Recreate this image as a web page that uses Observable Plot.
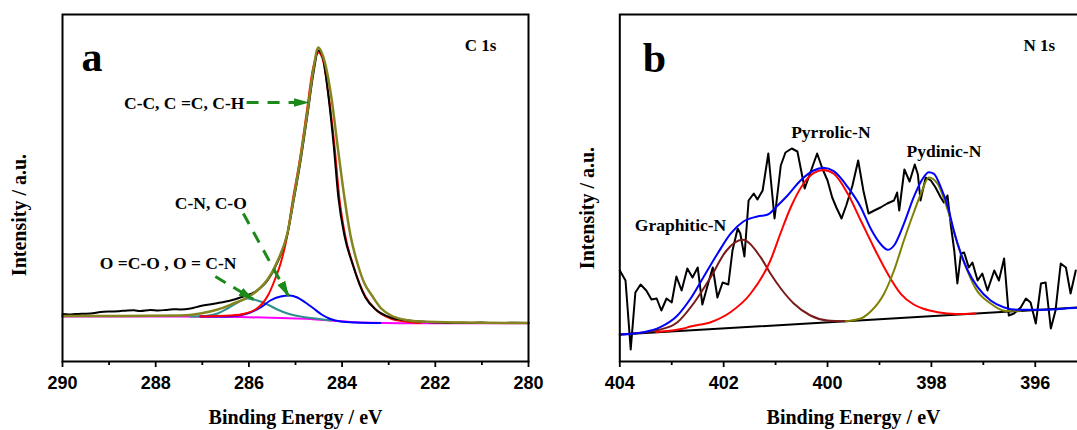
<!DOCTYPE html>
<html><head><meta charset="utf-8">
<script src="https://cdn.jsdelivr.net/npm/d3@7"></script>
<script src="https://cdn.jsdelivr.net/npm/@observablehq/plot@0.6"></script>
<style>
html,body{margin:0;padding:0;background:#fff;}
body{width:1077px;height:430px;overflow:hidden;position:relative;}
#pa{position:absolute;left:0;top:0;width:545px;height:430px;}
#pb{position:absolute;left:545px;top:0;width:552px;height:430px;}
svg{max-width:none !important;}
</style></head><body>
<div id="pa"></div><div id="pb"></div>
<script>
// ---------- Panel a: C 1s (binding energy eV, intensity a.u.) ----------
const c1sExp = [[290.00,47.5],[289.86,47],[289.72,47.5],[289.56,47.8],[289.40,48],[289.18,49.5],[288.97,50],[288.79,50.3],[288.61,51],[288.47,51.2],[288.33,50.5],[288.11,51.5],[287.95,51],[287.79,51.5],[287.63,52.3],[287.47,52],[287.25,53],[287.04,55.5],[286.72,58],[286.39,61],[286.12,65],[285.86,70],[285.60,81],[285.39,99],[285.17,128],[285.04,161],[284.89,201],[284.74,248],[284.61,290],[284.51,311],[284.42,305],[284.29,264],[284.18,216],[284.08,164],[283.95,126],[283.78,98],[283.50,64],[283.28,52],[282.96,44],[282.68,41.5],[282.32,40],[282.10,39.3],[281.89,39],[281.68,38.6],[281.46,38.8],[281.25,38.5],[281.03,39],[280.82,38.4],[280.60,38.5],[280.30,38.7],[280.00,38.5]];
const c1sEnvelope = [[290.00,45.5],[288.76,45.5],[287.47,46],[287.04,48],[286.67,52],[286.33,58],[286.03,64],[285.75,74],[285.60,82],[285.39,100],[285.17,129],[285.04,163],[284.89,204],[284.74,251],[284.61,294],[284.51,314],[284.40,304],[284.23,264],[284.09,213],[283.95,164],[283.82,126],[283.67,98],[283.52,78],[283.36,66],[283.16,53],[282.95,46],[282.68,42],[282.32,40],[281.46,39],[280.00,38.5]];
const c1sCC = [[287.04,45],[286.39,46],[286.07,48],[285.86,52],[285.71,58],[285.58,67],[285.45,81],[285.32,98],[285.19,123],[285.06,161],[284.91,201],[284.76,249],[284.64,289],[284.51,309],[284.42,303],[284.29,266],[284.16,214],[284.06,164],[283.93,125],[283.76,96],[283.50,65],[283.28,52],[282.96,43],[282.64,40],[282.32,38.5]];
const c1sCN = [[287.04,45],[286.50,45],[286.24,46],[285.97,49],[285.75,54],[285.54,61],[285.32,65],[285.13,66],[284.96,64],[284.79,59],[284.61,53],[284.44,47],[284.25,42.5],[284.03,40],[283.71,39],[283.18,38.5]];
const c1sOCO = [[287.25,45],[286.93,45.5],[286.67,48],[286.46,53],[286.24,59],[286.03,63],[285.82,61],[285.60,57],[285.39,52],[285.17,48],[284.89,45],[284.57,43],[284.25,41]];
const c1sBackground = [[290.00,45],[287.47,45],[286.18,44.5],[285.32,43.5],[284.68,42.5],[284.25,41],[283.82,39.5],[283.39,38.7],[282.75,38.3],[280.00,38.3]];
const ticksA = [290,288,286,284,282,280];
const minorA = [289,287,285,283,281];
const labelsA = [
  {e: 288.68, i: 252.7, text: "C-C, C =C, C-H"},
  {e: 287.59, i: 152.5, text: "C-N, C-O"},
  {e: 289.20, i: 92.7, text: "O =C-O , O = C-N"}
];
const arrowsA = [
  {e1: 286.05, i1: 259, e2: 284.72, i2: 259},
  {e1: 286.12, i1: 148, e2: 285.15, i2: 65.5},
  {e1: 286.72, i1: 85, e2: 285.90, i2: 62}
];

// ---------- Panel b: N 1s ----------
const n1sExp = [[404.00,91],[403.89,81],[403.79,12],[403.70,69],[403.60,77],[403.49,71],[403.39,62],[403.29,63],[403.20,51],[403.10,63],[403.00,59],[402.91,85],[402.81,71],[402.70,93],[402.60,84],[402.50,94],[402.41,57],[402.31,76],[402.21,94],[402.12,64],[402.02,79],[401.91,77],[401.83,111],[401.73,133],[401.68,128],[401.60,105],[401.52,161],[401.42,168],[401.35,162],[401.25,171],[401.14,208],[401.02,143],[400.90,196],[400.81,209],[400.69,213],[400.58,210],[400.44,173],[400.20,208],[400.10,193],[400.00,181],[399.91,164],[399.83,154],[399.73,143],[399.64,156],[399.52,176],[399.41,201],[399.31,171],[399.21,148],[399.10,151],[398.98,154],[398.85,158],[398.72,161],[398.66,169],[398.62,151],[398.52,192],[398.42,180],[398.32,197],[398.26,187],[398.21,161],[398.11,184],[398.01,181],[397.92,174],[397.82,164],[397.76,159],[397.69,166],[397.63,138],[397.56,111],[397.50,78],[397.43,108],[397.37,109],[397.28,94],[397.21,99],[397.11,81],[397.02,88],[396.92,71],[396.79,91],[396.70,81],[396.60,103],[396.51,46],[396.41,48],[396.28,54],[396.18,63],[396.09,59],[395.99,38],[395.89,78],[395.80,79],[395.70,33],[395.61,51],[395.51,98],[395.41,94],[395.32,68],[395.22,91]];
const n1sEnvelope = [[404.00,27],[403.54,29.3],[403.22,34.3],[402.89,46],[402.64,62.7],[402.39,84.3],[402.12,107.7],[401.87,127.7],[401.62,140],[401.35,145],[401.15,147],[400.98,155],[400.77,166],[400.52,181],[400.27,191],[400.08,193.7],[399.88,190.3],[399.61,174.3],[399.36,154.3],[399.17,133],[398.97,117],[398.84,111.7],[398.72,116],[398.53,137.7],[398.34,164.3],[398.20,180],[398.05,189.3],[397.95,187.7],[397.82,174.3],[397.68,154.3],[397.57,131],[397.43,107.7],[397.30,91],[397.11,74.3],[396.86,61],[396.61,54.3],[396.34,51.7],[395.84,51.7],[395.18,53.7],[395.00,54]];
const n1sPyrrolic = [[403.30,29.5],[402.77,33],[402.64,35],[402.25,39.3],[401.87,49.3],[401.48,68],[401.10,101],[400.90,129],[400.71,154],[400.46,178],[400.27,188.3],[400.08,191.5],[399.88,187.7],[399.61,167.7],[399.36,141],[399.11,114.3],[398.84,87.7],[398.59,67.7],[398.34,57],[398.15,52.7],[397.88,49.3],[397.53,47.5],[397.15,48]];
const n1sPyridinic = [[399.65,40.3],[399.36,43],[399.17,50],[398.92,67],[398.72,91],[398.53,121],[398.34,149],[398.20,168],[398.05,184],[397.88,177.7],[397.77,164.3],[397.63,142],[397.50,118],[397.34,95],[397.15,73],[396.86,58],[396.57,50.5],[396.28,50.7]];
const n1sGraphitic = [[404.00,27],[403.22,32],[402.89,39.3],[402.58,58],[402.25,84.3],[401.96,110],[401.64,121.7],[401.29,104.3],[401.10,88],[400.90,73],[400.65,58],[400.33,46],[400.00,41],[399.65,40.3]];
const n1sBackground = [[404.00,27],[395.00,54.5]];
const ticksB = [404,402,400,398,396];
const minorB = [403,401,399,397,395];
const labelsB = [
  {e: 403.71, i: 130.5, text: "Graphitic-N"},
  {e: 400.70, i: 223.7, text: "Pyrrolic-N"},
  {e: 398.48, i: 204.3, text: "Pydinic-N"}
];

// ---------- drawing ----------
const SERIF = "'Liberation Serif', 'Times New Roman', serif";
const SANS = "'Liberation Sans', Arial, sans-serif";
const GREEN = "#1b8a1b";
const pts = a => a.map(([e, i]) => ({e, i}));

function curve(data, stroke, w = 2, c = "monotone-x") {
  return Plot.line(pts(data), {x: "e", y: "i", stroke, strokeWidth: w, curve: c});
}

function panel(o) {
  const marks = [
    ...o.curves,
    Plot.frame({stroke: "#000", strokeWidth: 2}),
    Plot.axisX(o.major, {tickSize: 6, tickPadding: 9, strokeWidth: 1.8, fontSize: 18, fontWeight: "bold", fontFamily: SANS, label: null, tickFormat: d => String(d)}),
    Plot.axisX(o.minor, {tickSize: 4, strokeWidth: 1.8, label: null, tickFormat: () => ""}),
    Plot.text([o.letter], {text: d => d, frameAnchor: "top-left", textAnchor: "start", lineAnchor: "bottom", dx: o.letterDx, dy: o.letterDy, fontSize: 42, fontWeight: "bold", fontFamily: SERIF}),
    Plot.text([o.core], {text: d => d, frameAnchor: "top-right", textAnchor: "end", lineAnchor: "bottom", dx: -32, dy: 36, fontSize: 17, fontWeight: "bold", fontFamily: SERIF}),
    Plot.text(["Binding Energy / eV"], {text: d => d, frameAnchor: "bottom", textAnchor: "middle", lineAnchor: "bottom", dy: 62, fontSize: 20, fontWeight: "bold", fontFamily: SERIF}),
    Plot.text(["Intensity / a.u."], {text: d => d, frameAnchor: "left", rotate: -90, textAnchor: "middle", lineAnchor: "middle", dx: o.ylabDx, dy: o.ylabDy, fontSize: 20, fontWeight: "bold", fontFamily: SERIF}),
    Plot.text(o.labels, {x: "e", y: "i", text: "text", textAnchor: "start", lineAnchor: "bottom", fontSize: 17.5, fontWeight: "bold", fontFamily: SERIF})
  ];
  if (o.arrows) marks.push(Plot.link(o.arrows, {x1: "e1", y1: "i1", x2: "e2", y2: "i2", stroke: GREEN, strokeWidth: 3, strokeDasharray: "12,9"}));
  const svg = Plot.plot({
    width: o.width, height: 430,
    marginLeft: o.ml, marginRight: o.mr, marginTop: 14, marginBottom: 69,
    style: {background: "#fff", color: "#000", fontWeight: "bold", overflow: "visible", maxWidth: "none"},
    x: {domain: o.domain},
    y: {domain: [0, 347], axis: null},
    marks
  });
  svg.style.maxWidth = "none";
  svg.style.width = o.width + "px";
  svg.style.height = "430px";
  if (o.arrows) {
    const s = d3.select(svg);
    const defs = s.insert("defs", ":first-child");
    defs.append("marker").attr("id", "head-" + o.letter)
      .attr("viewBox", "0 0 16 10").attr("refX", 15).attr("refY", 5)
      .attr("markerWidth", 16).attr("markerHeight", 10)
      .attr("markerUnits", "userSpaceOnUse").attr("orient", "auto")
      .append("path").attr("d", "M0,0.5L16,5L0,9.5Z").attr("fill", GREEN).attr("stroke", "none");
    s.selectAll('g[aria-label="link"] path').attr("marker-end", `url(#head-${o.letter})`);
  }
  return svg;
}

const svgA = panel({
  width: 545, ml: 62, mr: 17, domain: [290, 280],
  major: ticksA, minor: minorA, letter: "a", letterDx: 19, letterDy: 56, core: "C 1s",
  ylabDx: -43, ylabDy: 27, labels: labelsA, arrows: arrowsA,
  curves: [
    curve(c1sBackground, "#ff00ff"),
    curve(c1sOCO, "#2f8f8f"),
    curve(c1sCN, "#0000ff"),
    curve(c1sCC, "#ff0000"),
    curve(c1sExp, "#000000"),
    curve(c1sEnvelope, "#85851f", 2.5)
  ]
});
document.getElementById("pa").appendChild(svgA);

const svgB = panel({
  width: 552, ml: 74.3, mr: 10.3, domain: [404, 395],
  major: ticksB, minor: minorB, letter: "b", letterDx: 23, letterDy: 57, core: "N 1s",
  ylabDx: -32, ylabDy: 20, labels: labelsB, arrows: null,
  curves: [
    curve(n1sBackground, "#000000", 2, "linear"),
    curve(n1sExp, "#000000", 2, "linear"),
    curve(n1sGraphitic, "#7a1a1a"),
    curve(n1sPyrrolic, "#ff0000"),
    curve(n1sPyridinic, "#808000"),
    curve(n1sEnvelope, "#0000ff")
  ]
});
document.getElementById("pb").appendChild(svgB);
</script>
</body></html>
